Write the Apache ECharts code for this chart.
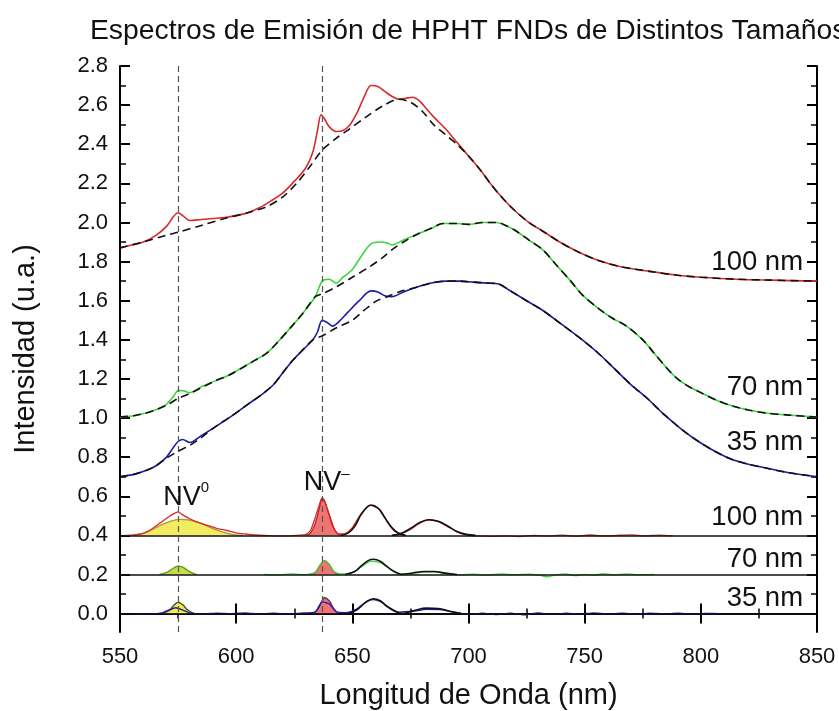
<!DOCTYPE html>
<html><head><meta charset="utf-8">
<script src="https://cdn.jsdelivr.net/npm/echarts@6/dist/echarts.min.js"></script>
<style>html,body{margin:0;padding:0;background:#fff}#c{width:839px;height:711px}</style>
</head><body><div id="c"></div>
<script>
// ---- Data ----
const xTickLabels = [550, 600, 650, 700, 750, 800, 850];
const yTickLabels = [0.0, 0.2, 0.4, 0.6, 0.8, 1.0, 1.2, 1.4, 1.6, 1.8, 2.0, 2.2, 2.4, 2.6, 2.8];
const yMinorTicks = [0.1, 0.3, 0.5, 0.7, 0.9, 1.1, 1.3, 1.5, 1.7, 1.9, 2.1, 2.3, 2.5, 2.7];

const spec100 = [[550,1.87],[555,1.885],[560,1.90],[565,1.93],[570,1.98],[573,2.03],[575,2.05],[577,2.035],[580,2.01],[585,2.015],[590,2.02],[595,2.025],[600,2.035],[605,2.05],[610,2.075],[615,2.11],[620,2.15],[625,2.21],[630,2.28],[633,2.36],[635,2.47],[636.5,2.55],[638,2.53],[640,2.49],[643,2.465],[646,2.47],[649,2.50],[652,2.56],[655,2.64],[658,2.70],[661,2.695],[664,2.67],[667,2.645],[670,2.63],[673,2.635],[676,2.64],[679,2.62],[682,2.58],[685,2.54],[690,2.48],[695,2.41],[700,2.34],[705,2.27],[710,2.19],[715,2.12],[720,2.06],[726,2.0],[732,1.955],[740,1.895],[748,1.845],[756,1.805],[765,1.775],[778,1.75],[790,1.73],[800,1.72],[815,1.71],[830,1.705],[850,1.70]];
const fit100 = [[550,1.87],[560,1.90],[570,1.935],[575,1.95],[585,1.985],[595,2.02],[605,2.05],[613,2.08],[620,2.13],[626,2.20],[632,2.29],[637,2.37],[643,2.43],[649,2.48],[656,2.54],[663,2.595],[670,2.63],[675,2.615],[680,2.57],[685,2.50],[690,2.45],[695,2.40],[700,2.34],[705,2.27],[710,2.19],[715,2.12],[720,2.06],[726,2.0],[732,1.955],[740,1.895],[748,1.845],[756,1.805],[765,1.775],[778,1.75],[790,1.73],[800,1.72],[815,1.71],[830,1.705],[850,1.70]];

const spec70 = [[550,1.005],[556,1.012],[562,1.028],[566,1.045],[570,1.07],[573,1.11],[575,1.14],[577,1.14],[580,1.13],[585,1.16],[591,1.19],[597,1.22],[603,1.26],[608,1.295],[613,1.33],[618,1.39],[624,1.47],[629,1.54],[634,1.62],[637,1.70],[640,1.71],[643,1.69],[646,1.72],[650,1.76],[654,1.83],[658,1.89],[662,1.90],[665,1.895],[667,1.885],[672,1.91],[678,1.94],[684,1.97],[689,1.995],[695,1.995],[700,1.99],[706,2.0],[712,2.0],[716,1.985],[720,1.96],[726,1.91],[732,1.86],[738,1.78],[744,1.70],[749,1.63],[756,1.56],[762,1.51],[768,1.47],[775,1.40],[780,1.33],[785,1.26],[790,1.20],[795,1.16],[800,1.13],[807,1.09],[814,1.06],[821,1.04],[828,1.026],[838,1.015],[850,1.005]];
const fit70 = [[550,1.005],[556,1.012],[562,1.028],[566,1.045],[570,1.065],[575,1.10],[580,1.125],[585,1.155],[591,1.19],[597,1.22],[603,1.26],[608,1.295],[613,1.33],[618,1.39],[624,1.47],[629,1.54],[634,1.62],[637,1.635],[643,1.67],[650,1.72],[657,1.77],[663,1.82],[667,1.86],[672,1.90],[678,1.94],[684,1.97],[689,1.995],[695,1.995],[700,1.99],[706,2.0],[712,2.0],[716,1.985],[720,1.96],[726,1.91],[732,1.86],[738,1.78],[744,1.70],[749,1.63],[756,1.56],[762,1.51],[768,1.47],[775,1.40],[780,1.33],[785,1.26],[790,1.20],[795,1.16],[800,1.13],[807,1.09],[814,1.06],[821,1.04],[828,1.026],[838,1.015],[850,1.005]];

const spec35 = [[550,0.70],[556,0.712],[562,0.735],[566,0.76],[570,0.80],[573,0.85],[575,0.88],[577,0.89],[580,0.875],[585,0.91],[591,0.955],[598,1.01],[605,1.07],[611,1.12],[616,1.17],[620,1.23],[624,1.29],[628,1.34],[633,1.40],[635,1.44],[637,1.50],[639,1.49],[641.5,1.47],[644,1.49],[648,1.54],[653,1.60],[658,1.65],[661,1.645],[664,1.625],[667,1.62],[672,1.645],[678,1.67],[684,1.69],[690,1.70],[696,1.70],[702,1.695],[708,1.69],[713,1.685],[718,1.65],[725,1.60],[732,1.55],[740,1.48],[749,1.40],[756,1.33],[763,1.25],[770,1.17],[777,1.10],[784,1.02],[792,0.94],[799,0.88],[806,0.83],[813,0.79],[820,0.765],[828,0.745],[838,0.72],[850,0.70]];
const fit35 = [[550,0.70],[556,0.712],[562,0.735],[566,0.76],[570,0.795],[575,0.83],[580,0.86],[585,0.90],[591,0.955],[598,1.01],[605,1.07],[611,1.12],[616,1.17],[620,1.23],[624,1.29],[628,1.34],[633,1.40],[637,1.42],[643,1.46],[650,1.50],[655,1.55],[660,1.596],[665,1.62],[670,1.645],[678,1.67],[684,1.69],[690,1.70],[696,1.70],[702,1.695],[708,1.69],[713,1.685],[718,1.65],[725,1.60],[732,1.55],[740,1.48],[749,1.40],[756,1.33],[763,1.25],[770,1.17],[777,1.10],[784,1.02],[792,0.94],[799,0.88],[806,0.83],[813,0.79],[820,0.765],[828,0.745],[838,0.72],[850,0.70]];

// difference spectra (offset baselines 0.4 / 0.2 / 0.0)
const diff100 = [[552,0.40],[556,0.403],[560,0.41],[564,0.435],[568,0.47],[571,0.495],[573,0.51],[575,0.52],[577,0.505],[580,0.485],[584,0.465],[588,0.45],[592,0.435],[596,0.425],[600,0.413],[604,0.407],[608,0.402],[614,0.399],[620,0.397],[626,0.40],[630,0.405],[632,0.425],[634,0.49],[636,0.565],[637,0.59],[638,0.575],[640,0.51],[642,0.44],[644,0.407],[647,0.41],[650,0.44],[654,0.515],[658,0.553],[662,0.53],[665,0.47],[668,0.422],[671,0.41],[675,0.43],[679,0.463],[683,0.48],[687,0.47],[691,0.445],[695,0.418],[699,0.403],[704,0.397],[710,0.395],[716,0.398],[722,0.394],[728,0.40],[734,0.397],[740,0.401],[746,0.396],[752,0.402],[758,0.397],[764,0.40],[770,0.403],[776,0.398],[782,0.401],[788,0.397]];
const diff70 = [[612,0.20],[618,0.198],[624,0.203],[630,0.199],[634,0.21],[636,0.245],[638,0.268],[640,0.25],[642,0.215],[645,0.203],[650,0.21],[654,0.24],[658,0.268],[662,0.26],[666,0.23],[670,0.205],[675,0.203],[680,0.212],[685,0.214],[690,0.206],[696,0.198],[702,0.202],[708,0.197],[714,0.203],[720,0.199],[726,0.202],[731,0.195],[734,0.188],[737,0.197],[742,0.203],[746,0.194],[750,0.201],[754,0.196],[758,0.204],[763,0.198],[768,0.203],[774,0.199],[780,0.201]];
const diff35 = [[556,0.0],[562,-0.003],[568,0.004],[574,0.03],[580,0.004],[586,-0.002],[592,0.003],[598,0.0],[604,0.004],[610,-0.003],[616,0.002],[622,-0.002],[628,0.003],[634,0.008],[637,0.06],[640,0.05],[643,0.01],[647,0.005],[652,0.025],[656,0.06],[659,0.072],[662,0.062],[666,0.03],[670,0.008],[676,0.012],[682,0.022],[688,0.02],[694,0.006],[700,-0.004],[706,0.003],[712,-0.005],[718,0.002],[724,-0.006],[730,0.004],[736,-0.004],[742,0.003],[748,-0.003],[754,0.004],[760,-0.002],[766,0.002],[772,-0.003],[778,0.003],[784,-0.002],[790,0.002],[796,-0.002],[802,0.001],[808,0.0]];

// Gaussian fit components
const nv0_100 = [[556,0.40],[560,0.41],[564,0.43],[568,0.455],[572,0.473],[576,0.482],[579,0.48],[583,0.468],[587,0.45],[591,0.43],[595,0.414],[599,0.404],[603,0.40]];
const nvm_100 = [[630,0.40],[632,0.412],[634,0.46],[636,0.55],[637,0.59],[638,0.578],[640,0.505],[642,0.435],[644,0.406],[646,0.40]];
const pk3_100 = [[645,0.40],[648,0.41],[651,0.445],[654,0.51],[658,0.555],[661,0.54],[664,0.49],[667,0.44],[670,0.41],[673,0.40]];
const pk4_100 = [[667,0.40],[671,0.41],[675,0.435],[679,0.466],[683,0.48],[687,0.472],[691,0.448],[695,0.42],[699,0.405],[703,0.40]];

const nv0_70 = [[567,0.20],[570,0.21],[573,0.232],[575,0.243],[577,0.238],[580,0.215],[583,0.20]];
const nvm_70 = [[632,0.20],[634,0.21],[636,0.245],[638,0.27],[640,0.252],[642,0.215],[644,0.20]];
const pk3_70 = [[647,0.20],[651,0.215],[654,0.245],[657,0.272],[659,0.278],[662,0.268],[665,0.24],[668,0.215],[671,0.20]];
const pk4_70 = [[671,0.20],[676,0.208],[681,0.215],[685,0.215],[690,0.207],[695,0.20]];

const nv0_35 = [[568,0.0],[571,0.015],[573,0.04],[575,0.057],[577,0.045],[579,0.02],[582,0.0]];
const nvm_35 = [[633,0.0],[635,0.02],[637,0.065],[638,0.082],[640,0.066],[642,0.025],[644,0.0]];
const pk3_35 = [[648,0.0],[652,0.02],[656,0.06],[659,0.076],[662,0.066],[665,0.036],[669,0.008],[672,0.0]];
const pk4_35 = [[672,0.0],[677,0.017],[682,0.028],[687,0.026],[692,0.012],[697,0.0]];

const baselines = [0.4, 0.2, 0.0];
const nvLines = [575, 637];
const sizeLabels = ['100 nm', '70 nm', '35 nm', '100 nm', '70 nm', '35 nm'];
const sizeLabelY = [1.795, 1.155, 0.875, 0.49, 0.275, 0.08];
const sizeLabelX = 844;

// ---- Chart ----
const FONT = 'Liberation Sans, Arial, sans-serif';
const chart = echarts.init(document.getElementById('c'), null, {renderer: 'canvas'});

const RED = '#d92a2a', GREEN = '#3bd63b', BLUE = '#1c1ca8';
function line(data, color, width, extra) {
  return Object.assign({type: 'line', data: data, symbol: 'none', smooth: 0.3, silent: true,
    lineStyle: {color: color, width: width}, z: 3}, extra || {});
}
function dashed(data) {
  return line(data, '#111', 1.6, {lineStyle: {color: '#111', width: 1.6, type: [8, 5]}, z: 5});
}
function filled(data, base, stroke, fill) {
  return line(data, stroke, 1.3, {smooth: 0.4, areaStyle: {color: fill, opacity: 1, origin: base}, z: 2});
}
function peak(data) {
  return line(data, '#111', 1.6, {smooth: 0.4, z: 4});
}

const txt = {fontFamily: FONT, color: '#111', opacity: 1, textBorderWidth: 0};
const series = [
  line(spec100, RED, 1.6),
  dashed(fit100),
  line(spec70, GREEN, 1.6),
  dashed(fit70),
  line(spec35, BLUE, 1.6),
  dashed(fit35),
  filled(nv0_100, 0.4, '#b09a3a', '#f2ec62'),
  filled(nvm_100, 0.4, '#b02020', '#f07474'),
  filled(nv0_70, 0.2, '#5a9a20', '#c8dc48'),
  filled(nvm_70, 0.2, '#b02020', '#f07474'),
  filled(nv0_35, 0.0, '#444', '#f5ee3a'),
  filled(nvm_35, 0.0, '#552060', '#f07474'),
  line(diff100, RED, 1.3, {smooth: 0.2}),
  line(diff70, GREEN, 1.3, {smooth: 0.2}),
  line(diff35, BLUE, 1.3, {smooth: 0.2}),
  peak(pk3_100), peak(pk4_100), peak(pk3_70), peak(pk4_70), peak(pk3_35), peak(pk4_35),
  {type: 'line', data: [], silent: true, z: 1,
    markLine: {symbol: 'none', silent: true, label: {show: false},
      data: baselines.map(v => ({yAxis: v})).concat(nvLines.map(v => ({xAxis: v, lineStyle: {color: '#555', type: [6, 4], width: 1.2}}))),
      lineStyle: {color: '#111', width: 1.5, type: 'solid'}}},
  {type: 'scatter', silent: true, symbolSize: 0, z: 10, itemStyle: {opacity: 1, color: '#111'},
    data: sizeLabels.map((t, i) => [sizeLabelX, sizeLabelY[i], t]),
    label: Object.assign({show: true, position: 'left', distance: 0, formatter: p => p.value[2], fontSize: 27.5}, txt)},
  {type: 'scatter', silent: true, symbolSize: 0, z: 10, itemStyle: {opacity: 1, color: '#111'},
    data: [[578.5, 0.595, 'NV', '0'], [639, 0.67, 'NV', '\u2013']],
    label: Object.assign({show: true, position: 'inside', formatter: p => '{b|' + p.value[2] + '}{s|' + p.value[3] + '}',
      rich: {b: Object.assign({fontSize: 27}, txt),
             s: Object.assign({fontSize: 15, padding: [0, 0, 18, 0]}, txt)}}, txt)}
];

const axisFont = {fontFamily: FONT, fontSize: 22, color: '#111'};
const axLine = {show: true, lineStyle: {color: '#000', width: 2}};
const majTick = {show: true, inside: true, length: 10, lineStyle: {color: '#000', width: 2}};
const minTick = {show: true, splitNumber: 2, length: 5, lineStyle: {color: '#000', width: 1.5}};
const YMIN = -0.094, YMAX = 2.8;

chart.setOption({
  animation: false,
  backgroundColor: '#fff',
  title: {text: 'Espectros de Emisión de HPHT FNDs de Distintos Tamaños', left: 85, top: 12,
    textStyle: {fontFamily: FONT, fontSize: 28.3, fontWeight: 'normal', color: '#111'}},
  grid: {left: 120, right: 22, top: 66, bottom: 79, containLabel: false, outerBoundsMode: 'none'},
  xAxis: [
    {type: 'value', min: 550, max: 850, interval: 50, position: 'bottom',
      name: 'Longitud de Onda (nm)', nameLocation: 'middle', nameGap: 49,
      nameTextStyle: {fontFamily: FONT, fontSize: 29, color: '#111'},
      axisLine: axLine, splitLine: {show: false}, axisTick: majTick, minorTick: minTick,
      axisLabel: Object.assign({margin: 14, formatter: v => xTickLabels.indexOf(v) >= 0 ? String(v) : ''}, axisFont)},
    {type: 'value', min: 550, max: 850, interval: 50, position: 'top',
      axisLine: axLine, splitLine: {show: false}, axisTick: majTick, minorTick: minTick,
      axisLabel: {show: false}}
  ],
  yAxis: [
    {type: 'value', min: YMIN, max: YMAX, position: 'left',
      name: 'Intensidad (u.a.)', nameLocation: 'middle', nameGap: 80,
      nameTextStyle: {fontFamily: FONT, fontSize: 29, color: '#111'},
      axisLine: axLine, splitLine: {show: false},
      axisTick: Object.assign({customValues: yTickLabels}, majTick),
      axisLabel: Object.assign({margin: 12, customValues: yTickLabels, formatter: v => v.toFixed(1)}, axisFont)},
    {type: 'value', min: YMIN, max: YMAX, position: 'left',
      axisLine: {show: false}, splitLine: {show: false},
      axisTick: {show: true, inside: true, length: 6, customValues: yMinorTicks, lineStyle: {color: '#000', width: 1.5}},
      axisLabel: {show: false}},
    {type: 'value', min: YMIN, max: YMAX, position: 'right',
      axisLine: axLine, splitLine: {show: false},
      axisTick: Object.assign({customValues: yTickLabels}, majTick),
      axisLabel: {show: false}},
    {type: 'value', min: YMIN, max: YMAX, position: 'right',
      axisLine: {show: false}, splitLine: {show: false},
      axisTick: {show: true, inside: true, length: 6, customValues: yMinorTicks, lineStyle: {color: '#000', width: 1.5}},
      axisLabel: {show: false}}
  ],
  series: series
});
</script></body></html>
